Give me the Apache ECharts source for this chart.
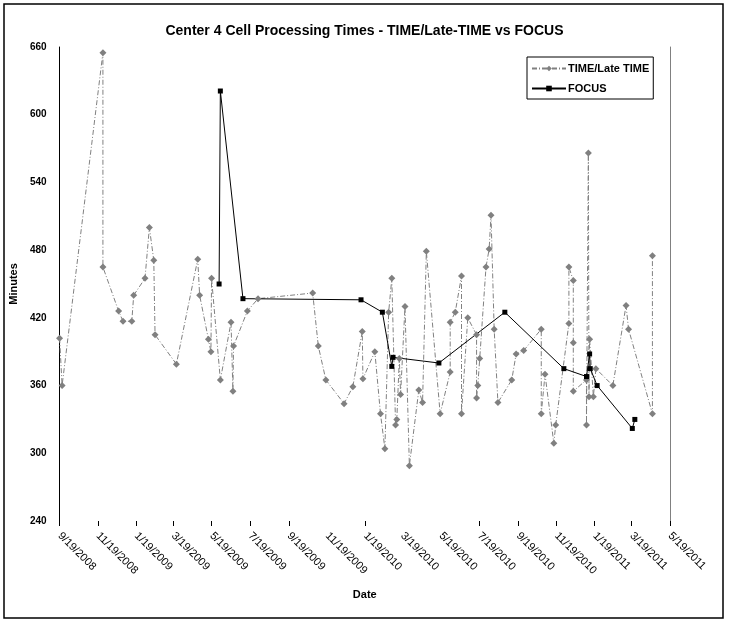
<!DOCTYPE html>
<html>
<head>
<meta charset="utf-8">
<script src="https://cdn.jsdelivr.net/npm/echarts@6/dist/echarts.min.js"></script>
<style>
html, body { margin: 0; padding: 0; background: #fff; }
#chart { width: 729px; height: 624px; }
</style>
</head>
<body>
<div id="chart"></div>
<script>
// TIME/Late TIME
var timeDates = [
	'2008-09-19', '2008-09-23', '2008-11-27', '2008-11-27', '2008-12-22', '2008-12-29', '2009-01-12', '2009-01-15',
	'2009-02-02', '2009-02-09', '2009-02-16', '2009-02-18', '2009-03-24', '2009-04-27', '2009-04-30', '2009-05-14',
	'2009-05-18', '2009-05-19', '2009-06-02', '2009-06-19', '2009-06-22', '2009-06-23', '2009-07-15', '2009-08-01',
	'2009-10-27', '2009-11-05', '2009-11-17', '2009-12-16', '2009-12-30', '2010-01-14', '2010-01-15', '2010-02-03',
	'2010-02-12', '2010-02-19', '2010-02-25', '2010-03-02', '2010-03-08', '2010-03-10', '2010-03-14', '2010-03-16',
	'2010-03-23', '2010-03-30', '2010-04-14', '2010-04-20', '2010-04-26', '2010-05-18', '2010-06-03', '2010-06-03',
	'2010-06-11', '2010-06-21', '2010-06-21', '2010-07-01', '2010-07-15', '2010-07-15', '2010-07-17', '2010-07-20',
	'2010-07-30', '2010-08-04', '2010-08-07', '2010-08-12', '2010-08-18', '2010-09-09', '2010-09-16', '2010-09-28',
	'2010-10-26', '2010-10-26', '2010-11-01', '2010-11-15', '2010-11-18', '2010-12-09', '2010-12-09', '2010-12-16',
	'2010-12-16', '2010-12-16', '2011-01-06', '2011-01-06', '2011-01-09', '2011-01-10', '2011-01-11', '2011-01-17',
	'2011-01-21', '2011-02-17', '2011-03-10', '2011-03-14', '2011-04-21', '2011-04-21'
];
var timeValues = [
	402, 360, 655, 465, 426, 417, 417, 440,
	455, 500, 471, 405, 379, 472, 440, 401,
	390, 455, 365, 416, 355, 395, 426, 437,
	442, 395, 365, 344, 359, 408, 366, 390,
	335, 304, 425, 455, 325, 330, 384, 352,
	430, 289, 356, 345, 479, 335, 372, 416,
	425, 457, 335, 420, 405, 349, 360, 384,
	465, 481, 511, 410, 345, 365, 388, 391,
	410, 335, 370, 309, 325, 415, 465, 453,
	398, 355, 365, 325, 566, 350, 401, 350,
	375, 360, 431, 410, 335, 475
];
// FOCUS
var focusDates = [
	'2009-05-31', '2009-06-02', '2009-07-08', '2010-01-12', '2010-02-15', '2010-03-02', '2010-03-04', '2010-05-16',
	'2010-08-29', '2010-12-01', '2011-01-06', '2011-01-11', '2011-01-12', '2011-01-23', '2011-03-20', '2011-03-24'
];
var focusValues = [450, 621, 437, 436, 425, 377, 385, 380, 425, 375, 368, 388, 375, 360, 322, 330];
// x轴刻度
var labelDates = [
	'2008-09-19', '2008-11-19', '2009-01-19', '2009-03-19', '2009-05-19', '2009-07-19', '2009-09-19', '2009-11-19',
	'2010-01-19', '2010-03-19', '2010-05-19', '2010-07-19', '2010-09-19', '2010-11-19', '2011-01-19', '2011-03-19',
	'2011-05-19'
];
var tickDates = [
	'2008-09-19', '2008-11-19', '2009-01-19', '2009-03-19', '2009-05-19', '2009-07-19', '2009-09-19',
	'2010-01-19', '2010-07-19', '2010-09-19', '2010-11-19', '2011-01-19', '2011-03-19', '2011-05-19'
];

function toTime(s) {
	var p = s.split('-');
	return new Date(+p[0], p[1] - 1, +p[2]).getTime();
}
function pairs(dates, values) {
	var out = [];
	for(var i = 0; i < dates.length; i++) {
		out.push([toTime(dates[i]), values[i]]);
	}
	return out;
}

var font = 'Liberation Sans, Arial, sans-serif';
var option = {
	animation: false,
	backgroundColor: '#fff',
	title: {
		text: 'Center 4 Cell Processing Times - TIME/Late-TIME vs FOCUS',
		left: 'center',
		top: 19,
		textStyle: {
			fontFamily: font,
			fontSize: 14,
			fontWeight: 'bold',
			color: '#000'
		}
	},
	legend: {
		orient: 'vertical',
		left: 527,
		top: 57,
		padding: [6, 4, 5, 4],
		itemGap: 9,
		itemWidth: 34,
		itemHeight: 7,
		borderColor: '#000',
		borderWidth: 1,
		backgroundColor: '#fff',
		textStyle: {
			fontFamily: font,
			fontSize: 11,
			fontWeight: 'bold',
			color: '#000',
			padding: [0, 2, 0, -3]
		},
		data: ['TIME/Late TIME', 'FOCUS']
	},
	grid: {
		left: 56,
		right: 59,
		top: 47,
		bottom: 103
	},
	xAxis: {
		type: 'value',
		min: toTime('2008-09-19'),
		max: toTime('2011-05-19'),
		name: 'Date',
		nameLocation: 'middle',
		nameGap: 68,
		nameTextStyle: {
			fontFamily: font,
			fontSize: 11,
			fontWeight: 'bold',
			color: '#000'
		},
		axisLine: {
			show: false
		},
		axisTick: {
			show: true,
			length: 5,
			customValues: tickDates.map(toTime),
			lineStyle: {
				color: '#000'
			}
		},
		axisLabel: {
			rotate: -45,
			margin: 13,
			customValues: labelDates.map(toTime),
			fontFamily: font,
			fontSize: 11,
			color: '#000',
			formatter: function(v) {
				var d = new Date(v);
				return (d.getMonth() + 1) + '/' + d.getDate() + '/' + d.getFullYear();
			}
		},
		splitLine: {
			show: false
		}
	},
	yAxis: [{
		type: 'value',
		min: 240,
		max: 660,
		interval: 60,
		name: 'Minutes',
		nameLocation: 'middle',
		nameGap: 33,
		nameTextStyle: {
			fontFamily: font,
			fontSize: 11,
			fontWeight: 'bold',
			color: '#000'
		},
		axisLine: {
			show: true,
			lineStyle: {
				color: '#000'
			}
		},
		axisTick: {
			show: false
		},
		axisLabel: {
			margin: 13,
			fontFamily: font,
			fontSize: 10,
			fontWeight: 'bold',
			color: '#000'
		},
		splitLine: {
			show: false
		}
	}, {
		type: 'value',
		position: 'right',
		min: 240,
		max: 660,
		interval: 60,
		axisLine: {
			show: true,
			lineStyle: {
				color: '#808080'
			}
		},
		axisTick: {
			show: false
		},
		axisLabel: {
			show: false
		},
		splitLine: {
			show: false
		}
	}],
	series: [{
		name: 'TIME/Late TIME',
		type: 'line',
		data: pairs(timeDates, timeValues),
		symbol: 'diamond',
		symbolSize: 7,
		color: '#808080',
		itemStyle: {
			color: '#808080'
		},
		lineStyle: {
			color: '#808080',
			width: 1,
			type: [5, 2, 1, 2]
		}
	}, {
		name: 'FOCUS',
		type: 'line',
		data: pairs(focusDates, focusValues),
		symbol: 'rect',
		symbolSize: 5,
		color: '#000',
		itemStyle: {
			color: '#000'
		},
		lineStyle: {
			color: '#000',
			width: 1
		}
	}],
	graphic: [{
		type: 'rect',
		shape: {
			x: 4,
			y: 4,
			width: 719,
			height: 614
		},
		style: {
			fill: 'none',
			stroke: '#000',
			lineWidth: 1.5
		},
		silent: true
	}]
};
var chart = echarts.init(document.getElementById('chart'));
chart.setOption(option);
</script>
</body>
</html>
